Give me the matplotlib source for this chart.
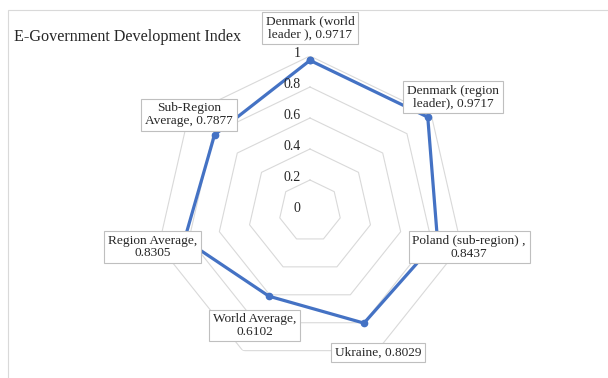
import numpy as np
import matplotlib
matplotlib.use("Agg")
import matplotlib.pyplot as plt
from matplotlib.patches import Rectangle
from matplotlib.transforms import offset_copy

categories = ["Denmark (world\nleader ), ", "Denmark (region\nleader), ", "Poland (sub-region) ,\n",
              "Ukraine, ", "World Average,\n", "Region Average,\n", "Sub-Region\nAverage, "]
values = [0.9717, 0.9717, 0.8437, 0.8029, 0.6102, 0.8305, 0.7877]
value_text = ["0.9717", "0.9717", "0.8437", "0.8029", "0.6102", "0.8305", "0.7877"]
ring_levels = [0.0, 0.2, 0.4, 0.6, 0.8, 1.0]
ring_labels = ["0", "0.2", "0.4", "0.6", "0.8", "1"]
title = "E-Government Development Index"

plt.rcParams['font.family'] = 'serif'
plt.rcParams['font.serif'] = ['Liberation Serif', 'DejaVu Serif']

W, H = 608, 378
fig = plt.figure(figsize=(W / 100, H / 100), dpi=100)
fig.patch.set_facecolor('white')

# chart frame (cropped at right/bottom)
fig.patches.append(Rectangle((7.5 / W, -0.05), 1.1, 1.05 - 10.5 / H, transform=fig.transFigure,
                             fill=False, edgecolor='#D9D9D9', lw=0.8))

cx, cy, R = 310, 211, 155
ax = fig.add_axes([(cx - R) / W, (H - cy - R) / H, 2 * R / W, 2 * R / H], projection='polar')
ax.set_theta_zero_location('N')
ax.set_theta_direction(-1)
ax.set_ylim(0, 1)
ax.grid(False)
ax.spines['polar'].set_visible(False)
ax.set_xticks([])
ax.set_yticks([])
ax.patch.set_alpha(0)

n = len(values)
angles = np.linspace(0, 2 * np.pi, n, endpoint=False)
closed = np.append(angles, angles[0])

grid_c = '#D9D9D9'
for lv in ring_levels[1:]:
    ax.plot(closed, [lv] * (n + 1), color=grid_c, lw=0.8, zorder=1)

vals_closed = values + [values[0]]
ax.plot(closed, vals_closed, color='#4472C4', lw=2.3, marker='o', ms=4.5, zorder=3, clip_on=False)

# radial tick labels
tr = offset_copy(ax.transData, fig=fig, x=-7, y=2, units='points')
for lv, lab in zip(ring_levels, ring_labels):
    ax.text(0, lv, lab, transform=tr, ha='right', va='center', fontsize=10, color='#262626', zorder=4)

# data labels
for a, v, c, vt in zip(angles, values, categories, value_text):
    ax.text(a, v + 0.21, c + vt, ha='center', va='center', fontsize=9.6, color='#262626',
            linespacing=1.05, multialignment='center', zorder=5, clip_on=False,
            bbox=dict(boxstyle='square,pad=0.28', facecolor='white', edgecolor='#BFBFBF', lw=0.8))

fig.text(14 / W, 1 - 37 / H, title, ha='left', va='center', fontsize=11.6, color='#262626')

fig.savefig('out.png', dpi=100)
